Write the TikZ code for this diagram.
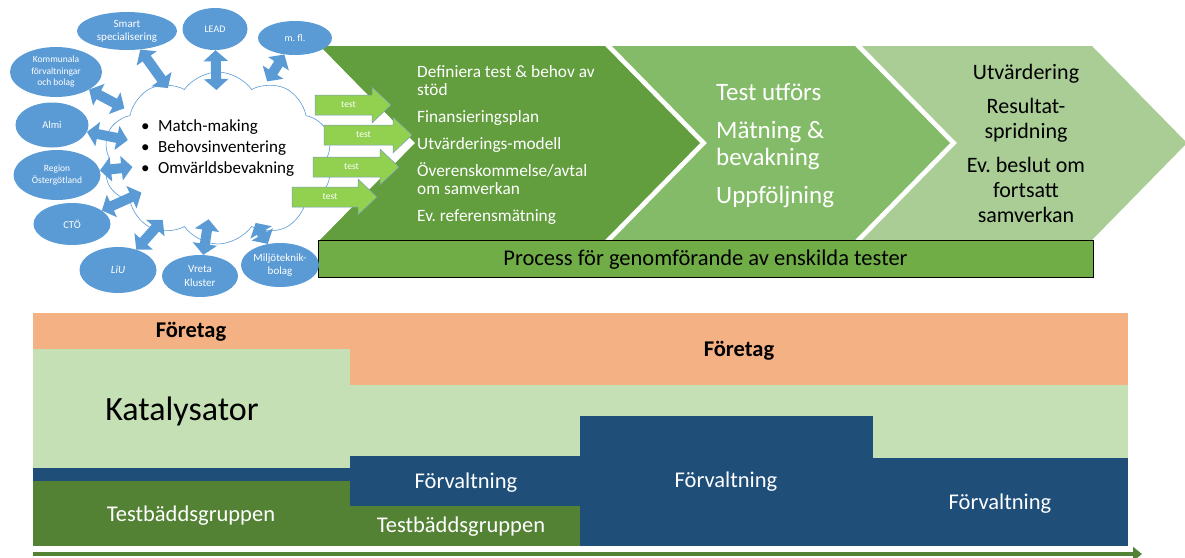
\documentclass[tikz,border=0pt]{standalone}
\usepackage{fontspec}
\setmainfont{Carlito}
\frenchspacing
\usetikzlibrary{shapes,shapes.symbols,arrows.meta,positioning,calc}

\definecolor{chevA}{HTML}{629D3E}
\definecolor{chevB}{HTML}{84BB68}
\definecolor{chevC}{HTML}{A9CD95}
\definecolor{procgreen}{HTML}{70AD47}
\definecolor{testgreen}{HTML}{92D050}
\definecolor{actorblue}{HTML}{5B9BD5}
\definecolor{actorline}{HTML}{41719C}
\definecolor{foretag}{HTML}{F4B183}
\definecolor{katgreen}{HTML}{C5E0B4}
\definecolor{forvblue}{HTML}{1F4E79}
\definecolor{tbgreen}{HTML}{548235}

\newcommand{\fs}[2]{\fontsize{#1}{#2}\selectfont}

% green block arrow with its label: name, left x, mid y, body length
\newcommand{\testarrow}[4]{%
  \draw[testshape] (#2,#3-10) -- ++(#4,0) -- ++(0,-8) -- ++(19,18) -- ++(-19,18) -- ++(0,-8) -- ++(-#4,0) -- cycle;
  \node[testlabel] (#1) at (#2+#4/2+5,#3) {test};}

\begin{document}
\begin{tikzpicture}[
        x=1pt, y=-1pt,
        actor/.style={ellipse, fill=actorblue, text=white, inner sep=0pt, align=center, font=\fs{10.5}{12.5}},
        link/.style={line width=10pt, actorblue, {Triangle[length=11pt,width=24pt]}-{Triangle[length=11pt,width=24pt]}, shorten <=0pt},
        hub/.style={cloud, cloud puffs=10, cloud puff arc=110, cloud ignores aspect, draw=actorblue, line width=0.6pt, fill=white, inner sep=0pt},
        testshape/.style={fill=testgreen, draw=actorline!70, line width=0.5pt},
        testlabel/.style={text=white, inner sep=0pt, font=\fs{9.5}{11}},
        steptext/.style={inner sep=0pt, align=left, text=white},
        processbar/.style={draw=black, line width=0.8pt, fill=procgreen, minimum width=775, minimum height=37, inner sep=0pt, font=\fs{22.5}{26}},
        band/.style={inner sep=0pt, font=\fs{22.5}{26}},
        timeline/.style={line width=4pt, tbgreen, -{Triangle[length=9pt,width=14pt]}}
    ]
        \useasboundingbox (0,0) rectangle (1185,557);

        % Process chevrons
        \fill[chevA] (320,46) -- (605,46) -- (700,143) -- (605,240) -- (320,240) -- (415,143) -- cycle;
        \fill[chevB] (612,46) -- (855,46) -- (950,143) -- (855,240) -- (612,240) -- (707,143) -- cycle;
        \fill[chevC] (862,46) -- (1092,46) -- (1187,143) -- (1092,240) -- (862,240) -- (957,143) -- cycle;

        \node[steptext, anchor=north west, font=\fs{17.3}{18}] (plan) at (417,65)
            {Definiera test \& behov av\\stöd\\[9pt]Finansieringsplan\\[9pt]Utvärderings-modell\\[9pt]Överenskommelse/avtal\\om samverkan\\[9pt]Ev. referensmätning};
        \node[steptext, anchor=north west, font=\fs{25}{27}] (utfor) at (716,83)
            {Test utförs\\[11pt]Mätning \&\\bevakning\\[11pt]Uppföljning};
        \node[steptext, anchor=north, align=center, text=black, font=\fs{22}{25}] (utvard) at (1026,64)
            {Utvärdering\\[9pt]Resultat-\\spridning\\[9pt]Ev. beslut om\\fortsatt\\samverkan};

        \node[processbar, text depth=2pt] (process) at (705.5,258.5) {Process för genomförande av enskilda tester};

        % Network cloud
        \node[hub, minimum width=230, minimum height=172] (hub) at (218,158) {};
        \node[anchor=north west, align=left, inner sep=0pt, font=\fs{17}{21}] (tasks) at (141,119)
            {\makebox[17pt][l]{\textbullet}Match-making\\\makebox[17pt][l]{\textbullet}Behovsinventering\\\makebox[17pt][l]{\textbullet}Omvärldsbevakning};

        % Tests entering the process
        \testarrow{test1}{315}{105}{57}
        \testarrow{test2}{324}{135}{69}
        \testarrow{test3}{313}{167}{67}
        \testarrow{test4}{292}{197}{66}

        % Actors
        \node[actor, minimum width=100, minimum height=38, font=\fs{11}{13}] (smart) at (127,31) {Smart\\specialisering};
        \node[actor, minimum width=65, minimum height=42, font=\fs{10}{12}] (lead) at (215,29) {LEAD};
        \node[actor, minimum width=74, minimum height=34, font=\fs{10}{12}] (mfl) at (295,38) {m. fl.};
        \node[actor, minimum width=92, minimum height=50, font=\fs{9.5}{11.5}] (kommun) at (56,72) {Kommunala\\förvaltningar\\och bolag};
        \node[actor, minimum width=73, minimum height=45] (almi) at (52,125) {Almi};
        \node[actor, minimum width=87, minimum height=50, font=\fs{9.5}{12.3}] (region) at (57,175) {Region\\Östergötland};
        \node[actor, minimum width=77, minimum height=42] (cto) at (72,224) {CTÖ};
        \node[actor, minimum width=77, minimum height=46, font=\fs{11}{13}\itshape] (liu) at (118,270) {LiU};
        \node[actor, minimum width=76, minimum height=42, font=\fs{11}{14}] (vreta) at (200,276) {Vreta\\Kluster};
        \node[actor, minimum width=78, minimum height=44, font=\fs{11}{13}] (miljo) at (280,265) {Miljöteknik-\\bolag};

        % links into the cloud, stopped short of its centre
        \foreach \a/\s in {smart/86, lead/68, mfl/91, kommun/106, almi/92, region/86, cto/84, liu/83, vreta/62, miljo/75}
            \draw[link, shorten >=\s pt] (\a) -- (hub.center);

        % Roles over time
        \fill[foretag] (33,313) rectangle (1128,385);
        \fill[katgreen] (33,349) rectangle (350,468);
        \fill[katgreen] (350,385) rectangle (1128,546);
        \fill[forvblue] (33,468) rectangle (350,481);
        \fill[tbgreen] (33,481) rectangle (350,546);
        \fill[forvblue] (350,456) rectangle (580,506);
        \fill[tbgreen] (350,506) rectangle (580,546);
        \fill[forvblue] (580,416) rectangle (873,546);
        \fill[forvblue] (873,458) rectangle (1128,546);

        \node[band, font=\bfseries\fs{22.5}{26}] (foretagA) at (191,332) {Företag};
        \node[band, font=\bfseries\fs{22.5}{26}] (foretagB) at (739,351) {Företag};
        \node[band, font=\fs{34}{40}] (katalys) at (182,411) {Katalysator};
        \node[band, text=white] (tbA) at (191,516) {Testbäddsgruppen};
        \node[band, text=white] (forvA) at (466,483) {Förvaltning};
        \node[band, text=white] (tbB) at (461,527) {Testbäddsgruppen};
        \node[band, text=white] (forvB) at (726,482) {Förvaltning};
        \node[band, text=white] (forvC) at (1000,504) {Förvaltning};

        \coordinate (t0) at (33,554);
        \coordinate (t1) at (1142,554);
        \draw[timeline] (t0) -- (t1);

    \end{tikzpicture}
\end{document}
